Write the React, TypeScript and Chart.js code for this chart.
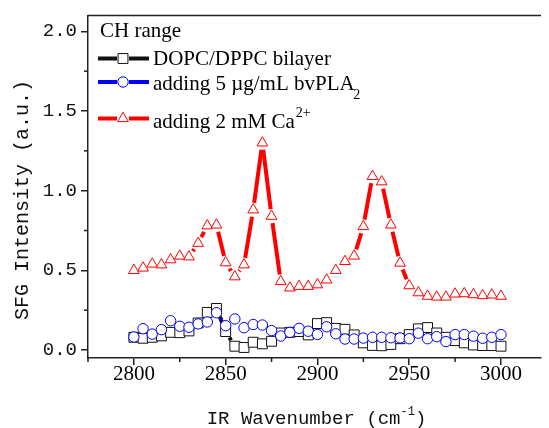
import React, { useEffect, useRef } from "react";
import { Chart, registerables } from "chart.js";

Chart.register(...registerables);

// ---------- data ----------
const wavenumbers = [
  2800, 2805, 2810, 2815, 2820, 2825, 2830, 2835, 2840, 2845,
  2850, 2855, 2860, 2865, 2870, 2875, 2880, 2885, 2890, 2895,
  2900, 2905, 2910, 2915, 2920, 2925, 2930, 2935, 2940, 2945,
  2950, 2955, 2960, 2965, 2970, 2975, 2980, 2985, 2990, 2995, 3000,
];

const bilayer = [
  0.08, 0.074, 0.08, 0.089, 0.111, 0.109, 0.12, 0.17, 0.236, 0.261,
  0.116, 0.024, 0.016, 0.049, 0.039, 0.055, 0.107, 0.111, 0.116, 0.095,
  0.166, 0.172, 0.136, 0.13, 0.095, 0.045, 0.029, 0.027, 0.035, 0.071,
  0.097, 0.133, 0.141, 0.107, 0.08, 0.059, 0.045, 0.032, 0.028, 0.028, 0.024,
];

const bvPLA2 = [
  0.082, 0.134, 0.1, 0.128, 0.184, 0.149, 0.143, 0.164, 0.176, 0.234,
  0.153, 0.195, 0.14, 0.16, 0.157, 0.122, 0.088, 0.111, 0.136, 0.118,
  0.098, 0.146, 0.102, 0.069, 0.069, 0.075, 0.08, 0.08, 0.077, 0.076,
  0.071, 0.106, 0.071, 0.084, 0.053, 0.097, 0.097, 0.087, 0.074, 0.08, 0.097,
];

const calcium = [
  0.5, 0.515, 0.54, 0.535, 0.567, 0.59, 0.585, 0.67, 0.78, 0.785,
  0.548, 0.46, 0.535, 0.88, 1.3, 0.84, 0.43, 0.39, 0.4, 0.4,
  0.41, 0.44, 0.5, 0.556, 0.59, 0.775, 1.09, 1.056, 0.785, 0.546,
  0.404, 0.36, 0.338, 0.333, 0.333, 0.352, 0.354, 0.348, 0.342, 0.346, 0.338,
];

const xMajorTicks = [2800, 2850, 2900, 2950, 3000];
const xMinorTicks = [2775, 2825, 2875, 2925, 2975];
const yMajorTicks = [0, 0.5, 1.0, 1.5, 2.0];
const yMinorTicks = [0.25, 0.75, 1.25, 1.75];

const legendTitle = "CH range";
const seriesLabels = ["DOPC/DPPC bilayer", "adding 5 \u00b5g/mL bvPLA", "adding 2 mM Ca"];
const seriesScripts = ["", "2", "2+"];
const seriesScriptKinds = ["", "sub", "sup"];
const xTitle = "IR Wavenumber (cm";
const xTitleSup = "-1";
const xTitleEnd = ")";
const yTitle = "SFG Intensity (a.u.)";

// ---------- styles ----------
const COLORS = ["#111111", "#0000ff", "#ff0000"];
const STYLES = ["rect", "circle", "triangle"];
const RADII = [7, 5.2, 6.2];
const SERIF = '"Liberation Serif", "Times New Roman", serif';
const MONO = '"Liberation Mono", "DejaVu Sans Mono", monospace';
const AXIS_COLOR = "#222222";

function drawMarker(ctx: CanvasRenderingContext2D, style: string, x: number, y: number, r: number, color: string) {
  ctx.save();
  ctx.fillStyle = "#ffffff";
  ctx.strokeStyle = color;
  ctx.lineWidth = 1;
  ctx.beginPath();
  if (style === "rect") {
    const s = r * Math.SQRT1_2;
    ctx.rect(x - s, y - s, 2 * s, 2 * s);
  } else if (style === "circle") {
    ctx.arc(x, y, r, 0, Math.PI * 2);
  } else {
    let a = 0;
    ctx.moveTo(x + Math.sin(a) * r, y - Math.cos(a) * r);
    a += (Math.PI * 2) / 3;
    ctx.lineTo(x + Math.sin(a) * r, y - Math.cos(a) * r);
    a += (Math.PI * 2) / 3;
    ctx.lineTo(x + Math.sin(a) * r, y - Math.cos(a) * r);
    ctx.closePath();
  }
  ctx.fill();
  ctx.stroke();
  ctx.restore();
}

const GAP = 7;

const gapLinesPlugin = {
  id: "gapLines",
  beforeDatasetsDraw(chart: any) {
    const ctx: CanvasRenderingContext2D = chart.ctx;
    const area = chart.chartArea;
    ctx.save();
    ctx.beginPath();
    ctx.rect(area.left, area.top, area.right - area.left, area.bottom - area.top);
    ctx.clip();
    chart.data.datasets.forEach((ds: any, i: number) => {
      const meta = chart.getDatasetMeta(i);
      ctx.strokeStyle = COLORS[i];
      ctx.lineWidth = 4;
      ctx.lineCap = "butt";
      for (let k = 0; k < meta.data.length - 1; k++) {
        const a = meta.data[k];
        const b = meta.data[k + 1];
        const dx = b.x - a.x;
        const dy = b.y - a.y;
        const d = Math.hypot(dx, dy);
        if (d <= 2 * GAP + 0.5) continue;
        const ux = dx / d;
        const uy = dy / d;
        ctx.beginPath();
        ctx.moveTo(a.x + ux * GAP, a.y + uy * GAP);
        ctx.lineTo(b.x - ux * GAP, b.y - uy * GAP);
        ctx.stroke();
      }
    });
    ctx.restore();
  },
};

const decorPlugin = {
  id: "decor",
  afterDraw(chart: any) {
    const ctx: CanvasRenderingContext2D = chart.ctx;
    const area = chart.chartArea;
    const xs = chart.scales.x;
    const ys = chart.scales.y;
    ctx.save();
    // top frame line
    ctx.strokeStyle = AXIS_COLOR;
    ctx.lineWidth = 1.5;
    ctx.beginPath();
    ctx.moveTo(area.left, area.top);
    ctx.lineTo(area.right, area.top);
    ctx.stroke();
    // minor ticks
    ctx.lineWidth = 1.5;
    xMinorTicks.forEach((v) => {
      const px = xs.getPixelForValue(v);
      if (px < area.left - 1 || px > area.right + 1) return;
      ctx.beginPath();
      ctx.moveTo(px, area.bottom);
      ctx.lineTo(px, area.bottom + 4);
      ctx.stroke();
    });
    yMinorTicks.forEach((v) => {
      const py = ys.getPixelForValue(v);
      ctx.beginPath();
      ctx.moveTo(area.left, py);
      ctx.lineTo(area.left - 4, py);
      ctx.stroke();
    });

    // y title
    ctx.fillStyle = "#111111";
    ctx.save();
    ctx.translate(23, 200);
    ctx.rotate(-Math.PI / 2);
    ctx.font = `20px ${MONO}`;
    ctx.textAlign = "center";
    ctx.textBaseline = "middle";
    ctx.fillText(yTitle, 0, 0);
    ctx.restore();

    // x title with superscript
    ctx.textBaseline = "alphabetic";
    ctx.textAlign = "left";
    ctx.font = `19px ${MONO}`;
    const w1 = ctx.measureText(xTitle).width;
    const w3 = ctx.measureText(xTitleEnd).width;
    ctx.font = `12px ${MONO}`;
    const w2 = ctx.measureText(xTitleSup).width;
    const total = w1 + w2 + w3;
    let tx = (area.left + area.right) / 2 + 2 - total / 2;
    const baseY = 424;
    ctx.font = `19px ${MONO}`;
    ctx.fillText(xTitle, tx, baseY);
    tx += w1;
    ctx.font = `12px ${MONO}`;
    ctx.fillText(xTitleSup, tx, baseY - 9);
    tx += w2;
    ctx.font = `19px ${MONO}`;
    ctx.fillText(xTitleEnd, tx, baseY);

    // legend
    ctx.fillStyle = "#000000";
    ctx.font = `21px ${SERIF}`;
    ctx.fillText(legendTitle, 100, 37);
    const symY = [58.5, 82, 118.5];
    const baseLines = [64.5, 90, 128];
    for (let i = 0; i < seriesLabels.length; i++) {
      const y = symY[i];
      ctx.strokeStyle = COLORS[i];
      ctx.lineWidth = 4;
      ctx.lineCap = "butt";
      ctx.beginPath();
      ctx.moveTo(98, y);
      ctx.lineTo(117, y);
      ctx.moveTo(129, y);
      ctx.lineTo(149, y);
      ctx.stroke();
      drawMarker(ctx, STYLES[i], 123, y, RADII[i], COLORS[i]);
      ctx.fillStyle = "#000000";
      ctx.font = `21px ${SERIF}`;
      const bl = baseLines[i];
      ctx.fillText(seriesLabels[i], 153, bl);
      const lw = ctx.measureText(seriesLabels[i]).width;
      if (seriesScripts[i]) {
        ctx.font = `14px ${SERIF}`;
        const off = seriesScriptKinds[i] === "sub" ? 9 : -11.5;
        const dx = seriesScriptKinds[i] === "sub" ? -1.5 : 1;
        ctx.fillText(seriesScripts[i], 153 + lw + dx, bl + off);
      }
    }
    ctx.restore();
  },
};

export default function App() {
  const ref = useRef<HTMLCanvasElement | null>(null);

  useEffect(() => {
    if (!ref.current) return;
    const datasets = [bilayer, bvPLA2, calcium].map((vals, i) => ({
      label: seriesLabels[i],
      data: wavenumbers.map((x, k) => ({ x, y: vals[k] })),
      showLine: false,
      pointStyle: STYLES[i] as any,
      pointRadius: RADII[i],
      pointHoverRadius: RADII[i],
      pointBorderWidth: 1,
      pointBorderColor: COLORS[i],
      pointBackgroundColor: "#ffffff",
      borderColor: COLORS[i],
      backgroundColor: "#ffffff",
      order: 2 - i,
    }));

    const chart = new Chart(ref.current, {
      type: "line",
      data: { datasets },
      options: {
        animation: false,
        responsive: false,
        devicePixelRatio: 1,
        events: [],
        layout: { padding: { top: 14, left: 0, right: 0, bottom: 0 } },
        plugins: {
          legend: { display: false },
          tooltip: { enabled: false },
          title: { display: false },
        },
        scales: {
          x: {
            type: "linear",
            min: 2775,
            max: 3021.8,
            afterBuildTicks: (axis: any) => {
              axis.ticks = xMajorTicks.map((v) => ({ value: v }));
            },
            afterFit: (scale: any) => {
              scale.height = 70;
            },
            grid: {
              drawOnChartArea: false,
              drawTicks: true,
              tickLength: 7,
              color: AXIS_COLOR,
              lineWidth: 1.5,
            },
            border: { display: true, color: AXIS_COLOR, width: 1.5 },
            ticks: {
              color: "#000000",
              padding: 0,
              maxRotation: 0,
              autoSkip: false,
              font: { family: SERIF, size: 21, lineHeight: 0.9 },
              callback: (v: any) => String(v),
            },
          },
          y: {
            type: "linear",
            min: -0.05,
            max: 2.1,
            afterBuildTicks: (axis: any) => {
              axis.ticks = yMajorTicks.map((v) => ({ value: v }));
            },
            afterFit: (scale: any) => {
              scale.width = 88;
            },
            grid: {
              drawOnChartArea: false,
              drawTicks: true,
              tickLength: 7,
              color: AXIS_COLOR,
              lineWidth: 1.5,
            },
            border: { display: true, color: AXIS_COLOR, width: 1.5 },
            ticks: {
              color: "#111111",
              padding: 4,
              autoSkip: false,
              font: { family: MONO, size: 19 },
              callback: (v: any) => Number(v).toFixed(1),
            },
          },
        },
      },
      plugins: [gapLinesPlugin, decorPlugin],
    });
    return () => chart.destroy();
  }, []);

  return (
    <div style={{ position: "fixed", left: 0, top: 0, width: 549, height: 428, background: "#ffffff" }}>
      <canvas ref={ref} width={549} height={428} style={{ display: "block" }} />
    </div>
  );
}
